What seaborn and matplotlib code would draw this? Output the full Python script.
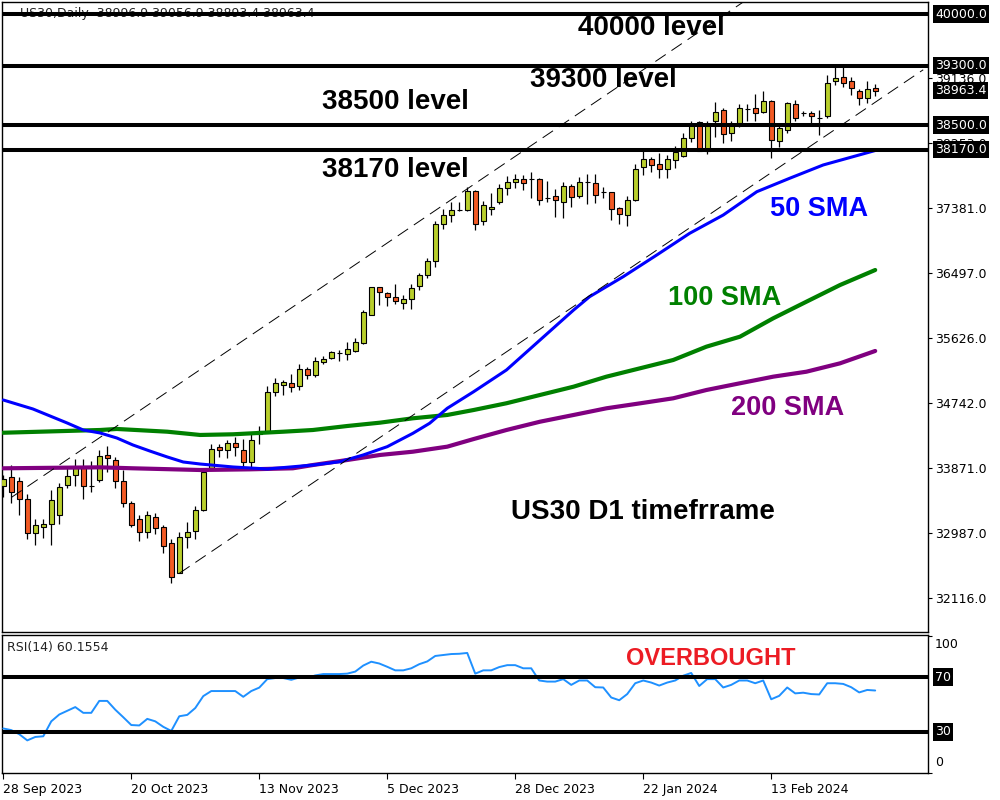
import numpy as np
import matplotlib
matplotlib.use("Agg")
import matplotlib.pyplot as plt
import seaborn as sns
from matplotlib.transforms import blended_transform_factory

# ---------------- data ----------------
opens = [33628, 33745, 33691, 33448, 32998, 33079, 33111, 33232, 33637, 33772,
         33880, 33624, 33705, 34042, 33975, 33691, 33394, 33178, 33003, 33205,
         33070, 32854, 32454, 32935, 33016, 33300, 33875, 34150, 34110, 34204,
         34110, 33948, 34326, 34375, 34901, 34987, 35014, 34974, 35203, 35122,
         35298, 35352, 35418, 35406, 35446, 35554, 35941, 36310, 36234, 36175,
         36094, 36148, 36324, 36472, 36661, 37161, 37282, 37350, 37350, 37606,
         37201, 37363, 37458, 37647, 37728, 37768, 37772, 37772, 37510, 37539,
         37458, 37674, 37539, 37727, 37714, 37591, 37593, 37377, 37286, 37485,
         37934, 38042, 37971, 37912, 38029, 38083, 38330, 38542, 38155, 38560,
         38704, 38398, 38525, 38711, 38727, 38673, 38822, 38286, 38430, 38785,
         38657, 38660, 38590, 38623, 39092, 39146, 39092, 38957, 38870, 38996.9]
highs = [33777, 33907, 33745, 33516, 33178, 33178, 33574, 33664, 33880, 33993,
         33993, 33961, 34110, 34164, 34015, 33844, 33421, 33237, 33286, 33268,
         33097, 32908, 33011, 33138, 33354, 33875, 34195, 34199, 34253, 34285,
         34258, 34326, 34442, 34978, 35086, 35059, 35140, 35275, 35230, 35365,
         35383, 35450, 35464, 35572, 35622, 36000, 36312, 36312, 36247, 36355,
         36202, 36351, 36499, 36706, 37206, 37363, 37458, 37458, 37665, 37624,
         37480, 37579, 37701, 37813, 37836, 37822, 37871, 37782, 37741, 37641,
         37728, 37701, 37795, 37840, 37840, 37660, 37595, 37398, 37539, 37979,
         38144, 38073, 38119, 38092, 38218, 38398, 38560, 38551, 38560, 38808,
         38727, 38560, 38785, 38785, 38920, 38965, 38839, 38511, 38808, 38839,
         38695, 38695, 38700, 39177, 39289, 39289, 39146, 38992, 39092, 39056.9]
lows = [33480, 33403, 33241, 32917, 32836, 32930, 32836, 33115, 33601, 33628,
        33456, 33547, 33680, 33817, 33605, 33349, 33075, 32890, 32926, 32984,
        32728, 32314, 32449, 32787, 32917, 33286, 33844, 34024, 34010, 34029,
        33867, 33880, 34191, 34348, 34847, 34852, 34901, 34924, 35068, 35103,
        35271, 35338, 35320, 35333, 35433, 35541, 35932, 36071, 36062, 36081,
        36013, 36013, 36274, 36432, 36589, 37093, 37192, 37334, 37336, 37084,
        37156, 37287, 37431, 37552, 37655, 37624, 37520, 37425, 37466, 37263,
        37250, 37398, 37520, 37431, 37452, 37520, 37219, 37165, 37138, 37471,
        37826, 37871, 37782, 37782, 37921, 38074, 38276, 38150, 38110, 38344,
        38255, 38290, 38479, 38556, 38560, 38660, 38052, 38201, 38398, 38560,
        38623, 38488, 38367, 38592, 39042, 39019, 38903, 38768, 38803, 38893.4]
closes = [33718, 33551, 33448, 32989, 33097, 33115, 33435, 33619, 33759, 33880,
          33624, 33630, 34029, 34002, 33691, 33394, 33097, 33003, 33232, 33065,
          32814, 32395, 32935, 33003, 33300, 33821, 34123, 34110, 34204, 34150,
          33948, 34245, 34375, 34901, 35014, 35028, 34960, 35203, 35122, 35311,
          35338, 35433, 35422, 35473, 35568, 35973, 36310, 36243, 36175, 36121,
          36148, 36301, 36472, 36666, 37165, 37282, 37354, 37356, 37606, 37161,
          37422, 37390, 37647, 37732, 37768, 37714, 37776, 37485, 37514, 37485,
          37674, 37525, 37732, 37731, 37556, 37595, 37367, 37296, 37485, 37903,
          38036, 37957, 37903, 38042, 38137, 38330, 38511, 38155, 38502, 38673,
          38380, 38502, 38727, 38715, 38660, 38822, 38295, 38465, 38795, 38596,
          38661, 38623, 38594, 39065, 39132, 39073, 38997, 38862, 38984, 38963.4]

sma50_x = [0, 3.7, 8.0, 10.0, 12.1, 14.2, 16.2, 18.3, 20.5, 22.5, 24.6, 28.7,
           33.0, 38.7, 42.1, 45.0, 48.0, 51.2, 53.3, 55.5, 58.8, 62.9, 67.1,
           71.3, 73.3, 77.5, 81.7, 85.8, 90.0, 94.2, 98.3, 102.5, 109]
sma50 = [34789, 34668, 34478, 34384, 34344, 34276, 34182, 34101, 34020, 33952,
         33925, 33885, 33858, 33911, 33956, 34047, 34159, 34339, 34475, 34677,
         34901, 35194, 35599, 36004, 36184, 36454, 36747, 37039, 37286, 37601,
         37782, 37962, 38157]
sma100_x = [0, 12.1, 14.2, 20.5, 24.6, 28.7, 35.0, 38.7, 43.0, 47.1, 51.2, 55.5,
            58.8, 62.9, 67.1, 71.3, 75.4, 79.6, 83.75, 87.9, 92.1, 96.25, 100.4,
            104.6, 109]
sma100 = [34347, 34384, 34398, 34361, 34317, 34326, 34361, 34384, 34438, 34483,
          34542, 34587, 34654, 34745, 34857, 34969, 35104, 35217, 35329, 35509,
          35644, 35892, 36116, 36341, 36544]
sma200_x = [0, 12.1, 16.2, 24.6, 30.8, 36.2, 38.7, 43.0, 47.1, 51.2, 55.5, 58.8,
            62.9, 67.1, 71.3, 75.4, 79.6, 83.75, 87.9, 92.1, 96.25, 100.4, 104.6,
            109]
sma200 = [33867, 33880, 33867, 33844, 33853, 33867, 33911, 33979, 34047, 34091,
          34159, 34262, 34384, 34496, 34587, 34677, 34744, 34812, 34924, 35015,
          35104, 35171, 35284, 35451]

rsi = [32.5, 31.3, 28.3, 23.8, 26.3, 26.8, 37.7, 42.7, 45.4, 48.1,
       43.9, 43.9, 52.6, 52.6, 46.2, 40.7, 35.0, 34.7, 39.5, 37.7,
       33.7, 30.7, 41.4, 42.4, 47.4, 56.1, 59.8, 59.8, 59.8, 59.8,
       55.6, 59.8, 62.3, 68.5, 69.3, 69.3, 68.0, 69.7, 69.3, 71.2,
       72.2, 72.2, 72.2, 72.5, 74.0, 78.4, 81.2, 79.9, 77.5, 74.9,
       74.9, 76.4, 79.4, 81.4, 85.4, 86.1, 86.8, 87.0, 87.6, 72.5,
       74.9, 74.9, 77.3, 78.7, 78.7, 76.4, 76.4, 67.5, 66.7, 66.7,
       68.5, 64.3, 67.5, 67.5, 62.6, 62.4, 55.1, 53.1, 57.6, 65.5,
       67.5, 66.0, 63.8, 66.0, 67.5, 71.0, 73.0, 63.5, 68.5, 68.5,
       62.4, 64.3, 67.5, 67.5, 65.5, 67.5, 53.8, 56.3, 62.4, 58.1,
       58.6, 57.6, 57.3, 65.5, 65.5, 65.0, 62.6, 58.8, 60.6, 60.2]

date_idx = [0, 16, 32, 48, 64, 80, 96]
date_labels = ["28 Sep 2023", "20 Oct 2023", "13 Nov 2023", "5 Dec 2023",
               "28 Dec 2023", "22 Jan 2024", "13 Feb 2024"]
price_ticks = [32116, 32987, 33871, 34742, 35626, 36497, 37381, 38253, 39136]
levels = [40000, 39300, 38500, 38170]
level_names = ["40000 level", "39300 level", "38500 level", "38170 level"]
level_text_x = [81.0, 75.0, 49.0, 49.0]
level_text_y = [39811, 39109, 38812, 37894]
last_price = 38963.4
rsi_levels = [70, 30]
upper_chan_x = [1.0, 115.6]
upper_chan_y = [33473, 41850]
lower_chan_x = [22.0, 115.0]
lower_chan_y = [32449, 39247]

# ---------------- style ----------------
sns.set_style("white")
plt.rcParams['font.family'] = ['DejaVu Sans']
plt.rcParams['text.color'] = 'black'
plt.rcParams['axes.labelcolor'] = 'black'
plt.rcParams['xtick.color'] = 'black'
plt.rcParams['ytick.color'] = 'black'
plt.rcParams['lines.scale_dashes'] = False

GREEN_C = '#b9cf2c'
RED_C = '#f25a24'
BOLD = 'Liberation Sans'

fig = plt.figure(figsize=(10, 8), dpi=100)
W, H = 1000, 800
def rect(l, t, r, b):
    return [l / W, 1 - b / H, (r - l) / W, (b - t) / H]

ax = fig.add_axes(rect(2, 2, 928, 632))
axr = fig.add_axes(rect(2, 635, 928, 773))
for a in (ax, axr):
    a.set_facecolor('white')
    for s in a.spines.values():
        s.set_color('black')
        s.set_linewidth(1.0)
    a.set_xlim(-0.16, 115.6)

ax.set_ylim(31657, 40162)
axr.set_ylim(0, 100.7)

# ---------------- candles ----------------
idx = np.arange(len(opens))
o = np.array(opens, float)
c = np.array(closes, float)
hi = np.array(highs, float)
lo = np.array(lows, float)
bull = c >= o
bottom = np.minimum(o, c)
height = np.maximum(np.abs(c - o), 3)
ax.vlines(idx, lo, hi, color='black', lw=0.9, zorder=2)
ax.bar(idx[bull], height[bull], bottom=bottom[bull], width=0.58,
       color=GREEN_C, edgecolor='black', linewidth=0.8, zorder=3)
ax.bar(idx[~bull], height[~bull], bottom=bottom[~bull], width=0.58,
       color=RED_C, edgecolor='black', linewidth=0.8, zorder=3)

# ---------------- moving averages ----------------
sns.lineplot(x=sma200_x, y=sma200, ax=ax, color='#800080', lw=3.0, zorder=4)
sns.lineplot(x=sma100_x, y=sma100, ax=ax, color='#008000', lw=3.0, zorder=4)
sns.lineplot(x=sma50_x, y=sma50, ax=ax, color='#0000ff', lw=2.2, zorder=4.5)

# ---------------- channel ----------------
ax.plot(upper_chan_x, upper_chan_y, color='black', lw=0.7, dashes=(9, 5), zorder=5)
ax.plot(lower_chan_x, lower_chan_y, color='black', lw=0.7, dashes=(9, 5), zorder=5)

# header text (under the 40000 line)
ax.text((20 - 2) / 926, 1 - (14 - 2) / 630, "US30,Daily  38996.9 39056.9 38893.4 38963.4",
        transform=ax.transAxes, fontsize=9, va='center', ha='left', color='#222222', zorder=4)

# ---------------- levels ----------------
for lv in levels:
    ax.axhline(lv, color='black', lw=2.9, zorder=5)
for name, tx, ty in zip(level_names, level_text_x, level_text_y):
    ax.text(tx, ty, name, ha='center', va='center', fontsize=20, fontweight='bold',
            family=BOLD, color='black', zorder=6)

ax.text(101.96, 37368, "50 SMA", ha='center', va='center', fontsize=19.5,
        fontweight='bold', family=BOLD, color='#0000ff', zorder=6)
ax.text(90.15, 36166, "100 SMA", ha='center', va='center', fontsize=19.5,
        fontweight='bold', family=BOLD, color='#008000', zorder=6)
ax.text(98.1, 34681, "200 SMA", ha='center', va='center', fontsize=19.5,
        fontweight='bold', family=BOLD, color='#800080', zorder=6)
ax.text(79.96, 33277, "US30 D1 timefrrame", ha='center', va='center', fontsize=20,
        fontweight='bold', family=BOLD, color='black', zorder=6)

# ---------------- price axis ----------------
ax.yaxis.tick_right()
ax.set_yticks(price_ticks)
ax.set_yticklabels([f"{v:.1f}" for v in price_ticks])
ax.tick_params(axis='y', direction='out', length=3, width=0.8, labelsize=9, pad=2,
               right=True, left=False)
ax.set_xticks([])
ax.set_xlabel('')
ax.set_ylabel('')

trans = blended_transform_factory(ax.transAxes, ax.transData)
for v in levels + [last_price]:
    ax.text(1.0075, v, f"{v:.1f}", transform=trans, ha='left', va='center', fontsize=9,
            color='white', clip_on=False, zorder=10,
            bbox=dict(facecolor='black', edgecolor='none', pad=1.5))

# ---------------- RSI ----------------
sns.lineplot(x=idx, y=rsi, ax=axr, color='#1e90ff', lw=1.4, zorder=3)
for lv in rsi_levels:
    axr.axhline(lv, color='black', lw=2.9, zorder=4)
axr.text(88.5, 83.9, "OVERBOUGHT", ha='center', va='center', fontsize=17,
         fontweight='bold', family=BOLD, color='#ec1c24', zorder=6)
axr.text((7 - 2) / 926, 1 - (647 - 635) / 138, "RSI(14) 60.1554", transform=axr.transAxes,
         fontsize=9, ha='left', va='center', color='#222222')

axr.yaxis.tick_right()
axr.set_yticks([0, 100])
axr.set_yticklabels([])
axr.tick_params(axis='y', direction='out', length=3, width=0.8, right=True, left=False)
transr = blended_transform_factory(axr.transAxes, axr.transData)
axr.text(1.0075, 93.5, "100", transform=transr, ha='left', va='center', fontsize=9, clip_on=False)
axr.text(1.0075, 7.3, "0", transform=transr, ha='left', va='center', fontsize=9, clip_on=False)
for lv in rsi_levels:
    axr.text(1.0075, lv, f"{lv}", transform=transr, ha='left', va='center', fontsize=9,
             color='white', clip_on=False, zorder=10,
             bbox=dict(facecolor='black', edgecolor='none', pad=1.5))

axr.set_xticks(date_idx)
axr.set_xticklabels(date_labels, ha='left', fontsize=9)
axr.tick_params(axis='x', direction='out', length=4, width=0.8, pad=3, bottom=True)
axr.set_xlabel('')
axr.set_ylabel('')

fig.savefig("out.png", dpi=100, facecolor='white')
